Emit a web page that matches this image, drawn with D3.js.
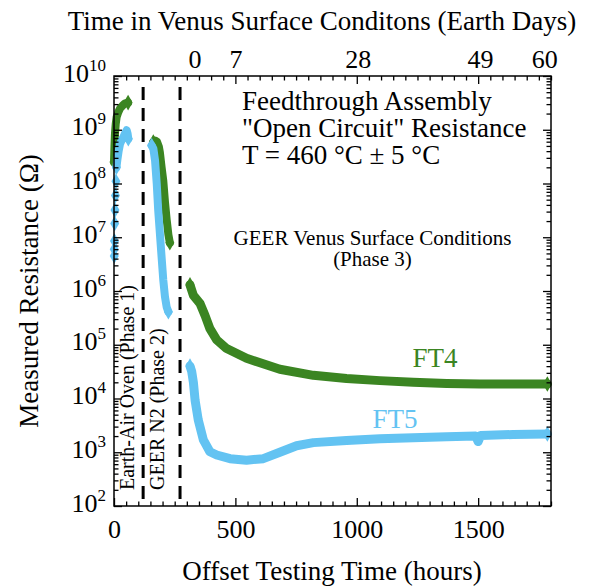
<!DOCTYPE html>
<html><head><meta charset="utf-8">
<script src="https://cdn.jsdelivr.net/npm/d3@7"></script>
<style>
body{margin:0;background:#fff}
svg{display:block}
text{font-family:"Liberation Serif","Times New Roman",serif;fill:#000}
</style>
</head><body>
<svg id="c" width="592" height="586"></svg>
<script>
// ---------------- data (hours, ohms) ----------------
const ft4P1Hours = [0, 2, 4, 7, 11, 18, 25, 35, 45, 58];
const ft4P1Ohms  = [2.5e8, 5e8, 8.5e8, 1.26e9, 1.74e9, 2.14e9, 2.5e9, 2.8e9, 3.1e9, 3.2e9];
const ft4P2Hours = [162, 169, 177, 185, 189, 196, 203, 210, 217, 224, 230];
const ft4P2Ohms  = [5.9e8, 6.3e8, 6.0e8, 4.8e8, 3.8e8, 2.0e8, 1.12e8, 4.5e7, 2.1e7, 1.12e7, 7.9e6];
const ft4P3Hours = [313, 327, 354, 375, 395, 423, 464, 546, 683, 821, 958, 1095, 1232, 1370, 1507, 1644, 1785];
const ft4P3Ohms  = [1.3e6, 8.3e5, 5.9e5, 3.5e5, 2.0e5, 1.23e5, 8.5e4, 5.6e4, 3.5e4, 2.7e4, 2.35e4, 2.15e4, 2.0e4, 1.9e4, 1.86e4, 1.86e4, 1.86e4];

const ft5P1ScatterHours = [1, 1, 2, 3, 4, 6, 8];
const ft5P1ScatterOhms  = [4.5e6, 6e6, 8.5e6, 1.8e7, 3.2e7, 6e7, 1.1e8];
const ft5P1Hours = [10, 14, 19, 25, 31, 38, 45, 52, 56, 59];
const ft5P1Ohms  = [2.0e8, 2.8e8, 4.0e8, 5.5e8, 6.3e8, 7.2e8, 8.5e8, 9.8e8, 8.5e8, 6.8e8];
const ft5P2Hours = [155, 162, 169, 176, 182, 189, 196, 203, 210, 217, 224];
const ft5P2Ohms  = [5.1e8, 4.5e8, 2.7e8, 1.0e8, 3.2e7, 1.17e7, 4.3e6, 1.6e6, 7.8e5, 5.0e5, 4.1e5];
const ft5P3Hours = [313, 320, 327, 334, 347, 368, 395, 423, 478, 546, 615, 683, 752, 821, 958, 1095, 1232, 1370, 1490, 1500, 1510, 1644, 1785];
const ft5P3Ohms  = [4.0e4, 3.2e4, 2.0e4, 9.3e3, 4.0e3, 1.7e3, 1.02e3, 890, 760, 710, 760, 1000, 1320, 1510, 1660, 1780, 1860, 1950, 2000, 1580, 2040, 2140, 2190];

const xMajorTicks = [0, 500, 1000, 1500];
const dayTicks = [0, 7, 28, 49, 60];
const venusStartHour = 332;          // hour at which day 0 of Venus conditions falls
const phaseBoundaryHours = [120, 272];
const yExponents = [2, 3, 4, 5, 6, 7, 8, 9, 10];

// ---------------- layout ----------------
const L = 114, R = 551, T = 76, B = 506;
const GREEN = "#3b8522", BLUE = "#63c3f2";
const FONT = '"Liberation Serif","Times New Roman",serif';

const svg = d3.select("#c");
const x = d3.scaleLinear().domain([0, 1800]).range([L, R]);
const xd = d3.scaleLinear().domain([(0 - venusStartHour) / 24, (1800 - venusStartHour) / 24]).range([L, R]);
const y = d3.scaleLog().domain([1e2, 1e10]).range([B, T]);

// phase boundaries
svg.append("g").selectAll("line").data(phaseBoundaryHours).join("line")
  .attr("x1", d => x(d)).attr("x2", d => x(d))
  .attr("y1", 87).attr("y2", B)
  .attr("stroke", "#000").attr("stroke-width", 3).attr("stroke-dasharray", "13,8");

// series
const plot = svg.append("g");
const line = d3.line().x(d => x(d[0])).y(d => y(d[1]));
const diamond = d3.symbol().type(d3.symbolDiamond).size(70);
function series(hours, ohms, color, withLine, width) {
  const pts = hours.map((h, i) => [h, ohms[i]]);
  let marks = pts;
  if (withLine) {
    plot.append("path").datum(pts).attr("d", line)
      .attr("fill", "none").attr("stroke", color).attr("stroke-width", width || 8)
      .attr("stroke-linejoin", "round").attr("stroke-linecap", "round");
    marks = [pts[0], pts[pts.length - 1]];
  }
  plot.append("g").selectAll("path").data(marks).join("path")
    .attr("transform", d => `translate(${x(d[0])},${y(d[1])})`)
    .attr("d", diamond).attr("fill", color);
}
series(ft4P1Hours, ft4P1Ohms, GREEN, true, 8);
series(ft4P2Hours, ft4P2Ohms, GREEN, true, 8);
series(ft4P3Hours, ft4P3Ohms, GREEN, true, 9);
series(ft5P1ScatterHours, ft5P1ScatterOhms, BLUE, false);
series(ft5P1Hours, ft5P1Ohms, BLUE, true, 8);
series(ft5P2Hours, ft5P2Ohms, BLUE, true, 8);
series(ft5P3Hours, ft5P3Ohms, BLUE, true, 9);

// ---------------- axes ----------------
function styleAxis(g) {
  g.attr("font-family", FONT).attr("font-size", 26);
  g.select(".domain").remove();
  g.selectAll(".tick line").attr("stroke", "#000").attr("stroke-width", 1.3);
  g.selectAll("text").attr("fill", "#000");
}
const minorX = d3.range(0, 1801, 50).filter(v => v % 500 !== 0);
// bottom
svg.append("g").attr("transform", `translate(0,${B})`)
  .call(d3.axisBottom(x).tickValues(minorX).tickSize(-4.5).tickFormat("")).call(styleAxis);
svg.append("g").attr("transform", `translate(0,${B})`)
  .call(d3.axisBottom(x).tickValues(xMajorTicks).tickSizeInner(-8).tickSizeOuter(0).tickPadding(14).tickFormat(d3.format("d"))).call(styleAxis);
// top
svg.append("g").attr("transform", `translate(0,${T})`)
  .call(d3.axisTop(x).tickValues(minorX).tickSize(-4.5).tickFormat("")).call(styleAxis);
svg.append("g").attr("transform", `translate(0,${T})`)
  .call(d3.axisTop(x).tickValues(xMajorTicks.filter(v => v > 0)).tickSize(-8).tickFormat("")).call(styleAxis);
svg.append("g").attr("transform", `translate(0,${T})`)
  .call(d3.axisTop(xd).tickValues(dayTicks).tickSize(0).tickPadding(8).tickFormat(d3.format("d"))).call(styleAxis);
// left / right
const minorY = [];
for (let e = 2; e < 10; e++) for (let m = 2; m <= 9; m++) minorY.push(m * Math.pow(10, e));
const majorY = yExponents.map(e => Math.pow(10, e));
svg.append("g").attr("transform", `translate(${L},0)`)
  .call(d3.axisLeft(y).tickValues(minorY).tickSize(-4.5).tickFormat("")).call(styleAxis);
svg.append("g").attr("transform", `translate(${L},0)`)
  .call(d3.axisLeft(y).tickValues(majorY).tickSize(-8).tickFormat("")).call(styleAxis);
svg.append("g").attr("transform", `translate(${R},0)`)
  .call(d3.axisRight(y).tickValues(minorY).tickSize(-4.5).tickFormat("")).call(styleAxis);
svg.append("g").attr("transform", `translate(${R},0)`)
  .call(d3.axisRight(y).tickValues(majorY).tickSize(-8).tickFormat("")).call(styleAxis);

// left tick labels 10^n
const yl = svg.append("g").selectAll("text").data(yExponents).join("text")
  .attr("x", 106).attr("y", e => y(Math.pow(10, e)) + 5.5).attr("text-anchor", "end");
yl.append("tspan").attr("font-size", 26).text("10");
yl.append("tspan").attr("font-size", 17).attr("dy", -11).text(e => e);

// frame
svg.append("rect").attr("x", L).attr("y", T).attr("width", R - L).attr("height", B - T)
  .attr("fill", "none").attr("stroke", "#000").attr("stroke-width", 1.5);

// ---------------- texts ----------------
svg.append("text").attr("x", 322).attr("y", 30).attr("text-anchor", "middle").attr("font-size", 27)
  .text("Time in Venus Surface Conditons (Earth Days)");
svg.append("text").attr("x", 332).attr("y", 580).attr("text-anchor", "middle").attr("font-size", 27)
  .text("Offset Testing Time (hours)");
svg.append("text").attr("transform", "translate(38,291) rotate(-90)").attr("text-anchor", "middle").attr("font-size", 27)
  .text("Measured Resistance (Ω)");

const note = svg.append("text").attr("font-size", 27);
["Feedthrough Assembly", "\"Open Circuit\" Resistance", "T = 460 °C ± 5 °C"].forEach((s, i) =>
  note.append("tspan").attr("x", 242).attr("y", 110 + i * 27).text(s));

const geer = svg.append("text").attr("font-size", 21).attr("text-anchor", "middle");
geer.append("tspan").attr("x", 372.5).attr("y", 245).text("GEER Venus Surface Conditions");
geer.append("tspan").attr("x", 372.5).attr("y", 266).text("(Phase 3)");

svg.append("text").attr("transform", "translate(134,490) rotate(-90)").attr("font-size", 20)
  .text("Earth-Air Oven (Phase 1)");
svg.append("text").attr("transform", "translate(163.5,490) rotate(-90)").attr("font-size", 20)
  .text("GEER N2 (Phase 2)");

svg.append("text").attr("x", 435).attr("y", 367).attr("text-anchor", "middle").attr("font-size", 27)
  .attr("fill", GREEN).style("fill", GREEN).text("FT4");
svg.append("text").attr("x", 395).attr("y", 428).attr("text-anchor", "middle").attr("font-size", 27)
  .attr("fill", BLUE).style("fill", BLUE).text("FT5");
</script>
</body></html>
